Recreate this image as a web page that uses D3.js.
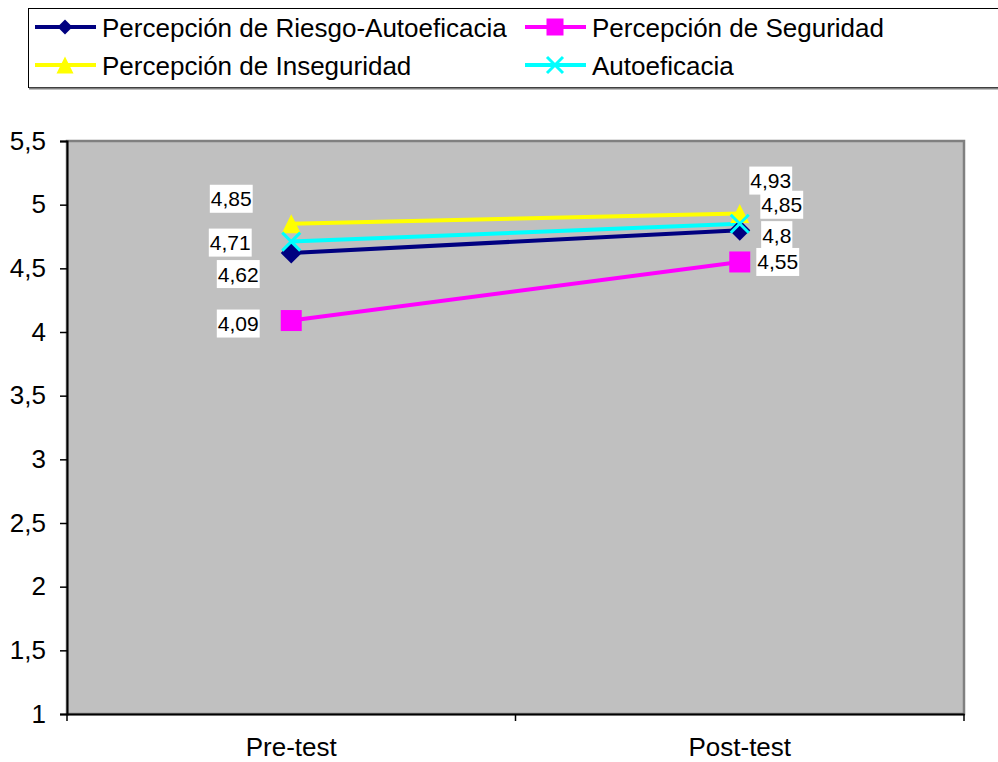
<!DOCTYPE html>
<html>
<head>
<meta charset="utf-8">
<script src="https://cdn.jsdelivr.net/npm/d3@7"></script>
<style>
  body { margin: 0; background: #fff; }
  svg text { font-family: "Liberation Sans", Arial, sans-serif; fill: #000; }
</style>
</head>
<body>
<div id="chart"></div>
<script>
// datos
var categories = ["Pre-test", "Post-test"];
var seriesNames = ["Percepción de Riesgo-Autoeficacia", "Percepción de Seguridad", "Percepción de Inseguridad", "Autoeficacia"];
var riesgoAutoeficacia = [4.62, 4.8];
var seguridad = [4.09, 4.55];
var inseguridad = [4.85, 4.93];
var autoeficacia = [4.71, 4.85];
var yTicks = [1, 1.5, 2, 2.5, 3, 3.5, 4, 4.5, 5, 5.5];

// estilo
var colors = ["#000080", "#FF00FF", "#FFFF00", "#00FFFF"];
var symbols = ["diamond", "square", "triangle", "x"];
// desplazamiento manual de las etiquetas (como en el grafico original)
var labelOffsets = [
	[[-53, 21], [37, 5]],
	[[-53, 3], [38, 0]],
	[[-60, -25], [31, -33]],
	[[-61, 1], [42, -19]]
];

var series = [riesgoAutoeficacia, seguridad, inseguridad, autoeficacia].map(function (v, i) {
	return { name: seriesNames[i], values: v, color: colors[i], symbol: symbols[i], offsets: labelOffsets[i] };
});

var w = 998, h = 762;
var plot = { left: 67, right: 964, top: 141, bottom: 714 };

var svg = d3.select("#chart").append("svg")
	.attr("width", w)
	.attr("height", h);

var locale = d3.formatLocale({ decimal: ",", thousands: ".", grouping: [3], currency: ["", "€"] });
var fmt = locale.format("~g");

var x = d3.scaleBand()
	.domain(categories)
	.range([plot.left, plot.right]);

var y = d3.scaleLinear()
	.domain([1, 5.5])
	.range([plot.bottom, plot.top]);

// area del grafico
svg.append("rect")
	.attr("x", plot.left)
	.attr("y", plot.top)
	.attr("width", plot.right - plot.left)
	.attr("height", plot.bottom - plot.top)
	.attr("fill", "#C0C0C0")
	.attr("stroke", "#808080")
	.attr("stroke-width", 2.5);

// eje y
var yAxis = d3.axisLeft(y)
	.tickValues(yTicks)
	.tickFormat(fmt)
	.tickSize(7)
	.tickPadding(14);

var gy = svg.append("g")
	.attr("transform", "translate(" + plot.left + ",0)")
	.call(yAxis);
gy.select(".domain").attr("stroke", "#000").attr("stroke-width", 2);
gy.selectAll(".tick line").attr("stroke", "#000").attr("stroke-width", 1.5);
gy.selectAll(".tick text").style("font-size", "26px").attr("fill", "#000");

// eje x
var xAxis = d3.axisBottom(x)
	.tickSize(0)
	.tickPadding(24);

var gx = svg.append("g")
	.attr("transform", "translate(0," + plot.bottom + ")")
	.call(xAxis);
gx.select(".domain").attr("stroke", "#000").attr("stroke-width", 2);
gx.selectAll(".tick text").style("font-size", "26px").attr("fill", "#000");

var bounds = x.domain().map(function (d) { return x(d); }).concat([plot.right]);
gx.selectAll(".sep")
	.data(bounds)
	.enter()
	.append("line")
	.attr("class", "sep")
	.attr("x1", function (d) { return d; })
	.attr("x2", function (d) { return d; })
	.attr("y1", 0)
	.attr("y2", 7)
	.attr("stroke", "#000")
	.attr("stroke-width", 1.5);

function cx(i) { return x(categories[i]) + x.bandwidth() / 2; }

var line = d3.line()
	.x(function (d, i) { return cx(i); })
	.y(function (d) { return y(d); });

function drawMarker(g, sym, color, size) {
	if (sym == "diamond") {
		var s = size / 2;
		g.append("path")
			.attr("d", "M0," + (-s) + "L" + s + ",0L0," + s + "L" + (-s) + ",0Z")
			.attr("fill", color);
	} else if (sym == "square") {
		g.append("rect")
			.attr("x", -size / 2).attr("y", -size / 2)
			.attr("width", size).attr("height", size)
			.attr("fill", color);
	} else if (sym == "triangle") {
		var t = size / 2;
		g.append("path")
			.attr("d", "M0," + (-t) + "L" + t + "," + t + "L" + (-t) + "," + t + "Z")
			.attr("fill", color);
	} else {
		var k = size / 2;
		g.append("path")
			.attr("d", "M" + (-k) + "," + (-k) + "L" + k + "," + k + "M" + (-k) + "," + k + "L" + k + "," + (-k))
			.attr("stroke", color)
			.attr("stroke-width", 3)
			.attr("fill", "none");
	}
}

// lineas y marcadores
var markerSize = [21, 21, 19, 18];
series.forEach(function (s, si) {
	svg.append("path")
		.datum(s.values)
		.attr("d", line)
		.attr("fill", "none")
		.attr("stroke", s.color)
		.attr("stroke-width", 4);
});
series.forEach(function (s, si) {
	s.values.forEach(function (v, i) {
		var g = svg.append("g").attr("transform", "translate(" + cx(i) + "," + y(v) + ")");
		drawMarker(g, s.symbol, s.color, markerSize[si]);
	});
});

// etiquetas de datos
series.forEach(function (s) {
	s.values.forEach(function (v, i) {
		var lx = cx(i) + s.offsets[i][0];
		var ly = y(v) + s.offsets[i][1];
		var g = svg.append("g");
		var bg = g.append("rect").attr("fill", "#fff");
		var txt = g.append("text")
			.attr("x", lx)
			.attr("y", ly + 7.5)
			.attr("text-anchor", "middle")
			.style("font-size", "21px")
			.text(fmt(v));
		var b = txt.node().getBBox();
		bg.attr("x", b.x - 1)
			.attr("y", ly - 14)
			.attr("width", b.width + 2)
			.attr("height", 28);
	});
});

// leyenda
var legend = svg.append("g");
legend.append("rect")
	.attr("x", 28.5)
	.attr("y", 8.5)
	.attr("width", 1000)
	.attr("height", 79)
	.attr("fill", "#fff")
	.attr("stroke", "#000")
	.attr("stroke-width", 1);
legend.append("line")
	.attr("x1", 29).attr("x2", 1000)
	.attr("y1", 88.5).attr("y2", 88.5)
	.attr("stroke", "#808080")
	.attr("stroke-width", 2);

var legendCols = [35, 525];
var legendRows = [27, 65];
var legendSize = [15, 17, 17, 16];
series.forEach(function (s, i) {
	var lx = legendCols[i % 2];
	var ly = legendRows[Math.floor(i / 2)];
	var g = legend.append("g");
	g.append("line")
		.attr("x1", lx).attr("x2", lx + 61)
		.attr("y1", ly).attr("y2", ly)
		.attr("stroke", s.color)
		.attr("stroke-width", 4);
	var m = g.append("g").attr("transform", "translate(" + (lx + 30) + "," + ly + ")");
	drawMarker(m, s.symbol, s.color, legendSize[i]);
	g.append("text")
		.attr("x", lx + 67)
		.attr("y", ly + 10)
		.style("font-size", "26px")
		.text(s.name);
});
</script>
</body>
</html>
